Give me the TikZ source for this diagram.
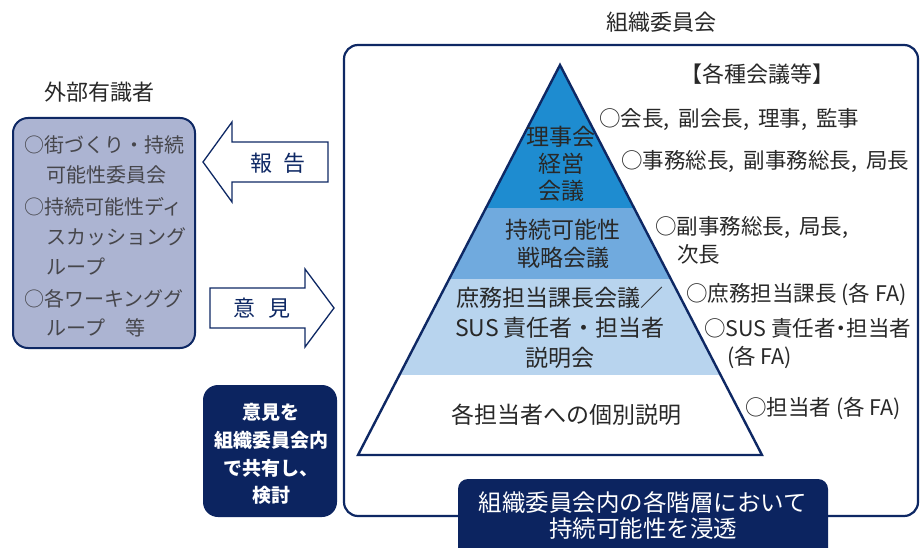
\documentclass[tikz,border=0pt]{standalone}
\usepackage{fontspec}
\setmainfont{Noto Sans CJK JP}
\newfontfamily\jpprop[RawFeature=+palt]{Noto Sans CJK JP}
\newcommand\jcomma{,\hspace{9pt}}
\definecolor{navy}{RGB}{14,40,100}
\definecolor{navyfill}{RGB}{12,36,96}
\definecolor{layerA}{RGB}{30,140,208}
\definecolor{layerB}{RGB}{112,170,222}
\definecolor{layerC}{RGB}{184,212,238}
\definecolor{leftfill}{RGB}{172,180,210}
\definecolor{txtdark}{RGB}{40,40,40}
\definecolor{txtgray}{RGB}{70,70,75}
\tikzset{
  pyr/.style={inner sep=0pt, font=\fontsize{23}{28}\selectfont, text=txtdark},
  lab/.style={anchor=west, inner sep=0pt, font=\fontsize{21.5}{25}\selectfont, text=txtdark},
  lft/.style={anchor=west, inner sep=0pt, font=\fontsize{20}{24}\selectfont, text=txtgray},
  wbold/.style={inner sep=0pt, font=\fontsize{19}{23}\selectfont\bfseries, text=white},
  wreg/.style={inner sep=0pt, font=\fontsize{23.5}{27}\selectfont, text=white},
  arrowshape/.style={draw=navy, line width=1.3pt, fill=white, line join=miter},
  arrtxt/.style={inner sep=0pt, font=\fontsize{22}{26}\selectfont, text=navy},
  head/.style={inner sep=0pt, font=\fontsize{22}{26}\selectfont, text=txtdark}
}
\begin{document}
\begin{tikzpicture}[x=1pt,y=-1pt]
\clip (0,0) rectangle (920,548);
\fill[white] (0,0) rectangle (920,548);

% big organisation frame
\draw[navy, line width=2.2pt, rounded corners=14pt] (344,45) rectangle (918,516);
\node[head] (title) at (661,22) {組織委員会};

% pyramid
\coordinate (apex) at (560,65);
\coordinate (bl) at (358,455);
\coordinate (br) at (762,455);
\begin{scope}
  \clip (apex) -- (br) -- (bl) -- cycle;
  \fill[layerA] (340,60) rectangle (780,208);
  \fill[layerB] (340,208) rectangle (780,279);
  \fill[layerC] (340,279) rectangle (780,375);
  \fill[white] (340,375) rectangle (780,460);
\end{scope}
\draw[navy, line width=2.4pt, line join=miter] (apex) -- (br) -- (bl) -- cycle;

\node[pyr] (p1a) at (561,137) {理事会};
\node[pyr] (p1b) at (561,164) {経営};
\node[pyr] (p1c) at (561,191) {会議};
\node[pyr] (p2a) at (563,230) {持続可能性};
\node[pyr] (p2b) at (563,258) {戦略会議};
\node[pyr] (p3a) at (560,298) {庶務担当課長会議／};
\node[pyr] (p3b) at (560,328) {SUS 責任者・担当者};
\node[pyr] (p3c) at (560,358) {説明会};
\node[pyr] (p4) at (566,415) {各担当者への個別説明};

% right labels
\node[lab, font=\fontsize{22}{26}\selectfont] (l0) at (680,74) {【各種会議等】};
\node[lab] (l1) at (599,120) {○会長\jcomma 副会長\jcomma 理事\jcomma 監事};
\node[lab] (l2) at (621,162) {○事務総長\jcomma 副事務総長\jcomma 局長};
\node[lab] (l3a) at (655,228) {○副事務総長\jcomma 局長,};
\node[lab] (l3b) at (677,254) {次長};
\node[lab] (l4) at (686,294) {○庶務担当課長 (各 FA)};
\node[lab, font=\fontsize{21.5}{25}\jpprop] (l5a) at (704,328) {○SUS 責任者・担当者};
\node[lab] (l5b) at (727,357) {(各 FA)};
\node[lab] (l6) at (745,408) {○担当者 (各 FA)};

% left: external experts
\node[head] (exttitle) at (99,92) {外部有識者};
\draw[navy, line width=2pt, fill=leftfill, rounded corners=15pt] (13,118) rectangle (195,348);
\node[lft] (e1a) at (24,145) {○街づくり・持続};
\node[lft] (e1b) at (46,175) {可能性委員会};
\node[lft] (e2a) at (24,207) {○持続可能性ディ};
\node[lft] (e2b) at (46,237) {スカッショング};
\node[lft] (e2c) at (46,267) {ループ};
\node[lft] (e3a) at (24,299) {○各ワーキンググ};
\node[lft] (e3b) at (46,328) {ループ　等};

% arrows
\draw[arrowshape] (203,162) -- (232,122) -- (232,142) -- (328,142) -- (328,182) -- (232,182) -- (232,202) -- cycle;
\node[arrtxt] (rep) at (278,163) {報\hspace{12pt}告};
\draw[arrowshape] (334,308) -- (305,269) -- (305,288) -- (210,288) -- (210,328) -- (305,328) -- (305,347) -- cycle;
\node[arrtxt] (opi) at (262,308) {意\hspace{14pt}見};

% navy box left
\fill[navyfill, rounded corners=15pt] (203,385) rectangle (337,517);
\node[wbold] (n1) at (271,412) {意見を};
\node[wbold] (n2) at (271,440) {組織委員会内};
\node[wbold] (n3) at (271,468) {で共有し、};
\node[wbold] (n4) at (271,495) {検討};

% bottom navy box
\fill[navyfill, rounded corners=10pt] (458,479) rectangle (828,570);
\node[wreg] (b1) at (643,503) {組織委員会内の各階層において};
\node[wreg] (b2) at (643,529) {持続可能性を浸透};
\end{tikzpicture}
\end{document}
